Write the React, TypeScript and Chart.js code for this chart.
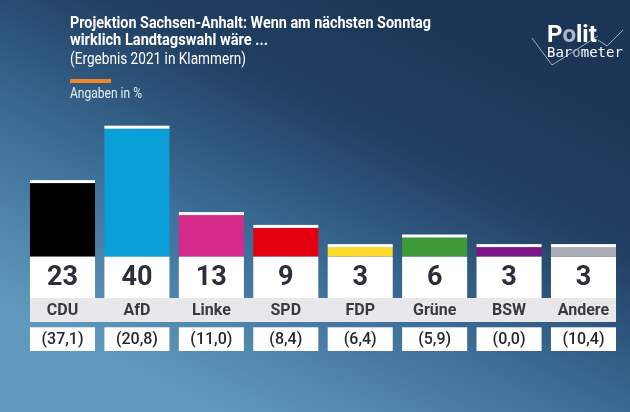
import { useEffect, useRef } from 'react';
import { Chart, registerables, Plugin } from 'chart.js';

Chart.register(...registerables);

// Projektion Sachsen-Anhalt (Politbarometer)
const parties = ['CDU', 'AfD', 'Linke', 'SPD', 'FDP', 'Grüne', 'BSW', 'Andere'];
const projection = [23, 40, 13, 9, 3, 6, 3, 3];
const result2021 = ['(37,1)', '(20,8)', '(11,0)', '(8,4)', '(6,4)', '(5,9)', '(0,0)', '(10,4)'];
const partyColors = ['#000000', '#0a9fd6', '#d52a89', '#e3000f', '#fbd82a', '#3f9a3a', '#7e1588', '#a8abb3'];

const titleLines = ['Projektion Sachsen-Anhalt: Wenn am nächsten Sonntag', 'wirklich Landtagswahl wäre ...'];
const subtitle = '(Ergebnis 2021 in Klammern)';
const unitNote = 'Angaben in %';

const FONT = 'Roboto, "Noto Sans", sans-serif';

const decor: Plugin<'bar'> = {
	id: 'decor',
	beforeDraw(chart) {
		const { ctx, width, height } = chart;
		ctx.save();
		// background
		const bg = ctx.createLinearGradient(420, 0, 220, height);
		bg.addColorStop(0, '#1c3556');
		bg.addColorStop(0.3, '#213f62');
		bg.addColorStop(0.62, '#3b6c96');
		bg.addColorStop(1, '#6199be');
		ctx.fillStyle = bg;
		ctx.fillRect(0, 0, width, height);

		// headline
		ctx.fillStyle = '#ffffff';
		ctx.textBaseline = 'alphabetic';
		ctx.textAlign = 'left';
		ctx.font = `bold 17px ${FONT}`;
		ctx.fillText(titleLines[0], 70, 28, 361);
		ctx.fillText(titleLines[1], 70, 45, 198);
		ctx.font = `16px ${FONT}`;
		ctx.fillText(subtitle, 70, 64, 176);

		ctx.fillStyle = '#f0882a';
		ctx.fillRect(70, 79, 41, 4);
		ctx.fillStyle = '#e6edf5';
		ctx.font = `15px ${FONT}`;
		ctx.fillText(unitNote, 70, 98, 72);

		// logo
		ctx.strokeStyle = 'rgba(205,215,230,0.75)';
		ctx.lineWidth = 1;
		ctx.beginPath();
		ctx.moveTo(532, 38);
		ctx.lineTo(552, 65);
		ctx.lineTo(598, 36);
		ctx.moveTo(598, 40);
		ctx.lineTo(607, 46);
		ctx.lineTo(623, 30);
		ctx.stroke();

		ctx.font = `bold 24px ${FONT}`;
		let x = 547;
		const polit: [string, string][] = [['P', '#ffffff'], ['o', '#aeb9c8'], ['lit', '#ffffff']];
		for (const [t, c] of polit) {
			ctx.fillStyle = c;
			ctx.fillText(t, x, 42);
			x += ctx.measureText(t).width;
		}
		ctx.font = '14px "DejaVu Sans Mono", monospace';
		x = 547;
		const baro: [string, string][] = [['Bar', '#ffffff'], ['o', '#aeb9c8'], ['meter', '#ffffff']];
		for (const [t, c] of baro) {
			ctx.fillStyle = c;
			ctx.fillText(t, x, 57);
			x += ctx.measureText(t).width;
		}
		ctx.restore();
	},
	afterDatasetsDraw(chart) {
		const { ctx } = chart;
		const meta = chart.getDatasetMeta(0);
		const zeroY = chart.scales.y.getPixelForValue(0);
		const bars = meta.data.map((el) => el.getProps(['x', 'y', 'width'], true) as { x: number; y: number; width: number });
		if (!bars.length) return;
		ctx.save();

		const bandTop = zeroY + 41.3;
		const bandH = 24;
		const parTop = bandTop + bandH + 5.3;
		const parH = 23.7;

		// grey label band
		const first = bars[0];
		const last = bars[bars.length - 1];
		ctx.fillStyle = '#e8e8ea';
		ctx.fillRect(first.x - first.width / 2, bandTop, last.x + last.width / 2 - (first.x - first.width / 2), bandH);

		bars.forEach((b, i) => {
			const left = b.x - b.width / 2;
			// white cap on top of the bar
			ctx.fillStyle = '#ffffff';
			ctx.fillRect(left, b.y - 3, b.width, 3);
			// value box
			ctx.fillRect(left, zeroY, b.width, bandTop - zeroY);
			// 2021 box
			ctx.fillRect(left, parTop, b.width, parH);

			ctx.textAlign = 'center';
			ctx.textBaseline = 'middle';
			ctx.fillStyle = '#2a2f3b';
			ctx.font = `bold 27px ${FONT}`;
			ctx.fillText(String(projection[i]), b.x, zeroY + 21.5);

			ctx.fillStyle = '#383a40';
			ctx.font = `bold 16px ${FONT}`;
			ctx.fillText(parties[i], b.x, bandTop + bandH / 2 + 1);

			ctx.fillStyle = '#25272d';
			ctx.font = `500 16px ${FONT}`;
			ctx.fillText(result2021[i], b.x, parTop + parH / 2 + 1);
		});
		ctx.restore();
	},
};

export default function App() {
	const chartRef = useRef<HTMLCanvasElement>(null);

	useEffect(() => {
		if (!chartRef.current) return;
		const chart = new Chart(chartRef.current, {
			type: 'bar',
			data: {
				labels: parties,
				datasets: [
					{
						data: projection,
						backgroundColor: partyColors,
						borderWidth: 0,
						barPercentage: 0.874,
						categoryPercentage: 1,
					},
				],
			},
			options: {
				animation: false,
				responsive: true,
				maintainAspectRatio: false,
				layout: { padding: { top: 112.7, bottom: 155.3, left: 25.3, right: 9.3 } },
				plugins: { legend: { display: false }, tooltip: { enabled: false } },
				scales: {
					x: { display: false },
					y: { display: false, min: 0, max: 45 },
				},
			},
			plugins: [decor],
		});
		return () => chart.destroy();
	}, []);

	return (
		<div style={{ position: 'absolute', left: 0, top: 0, width: 630, height: 412 }}>
			<canvas ref={chartRef}></canvas>
		</div>
	);
}
